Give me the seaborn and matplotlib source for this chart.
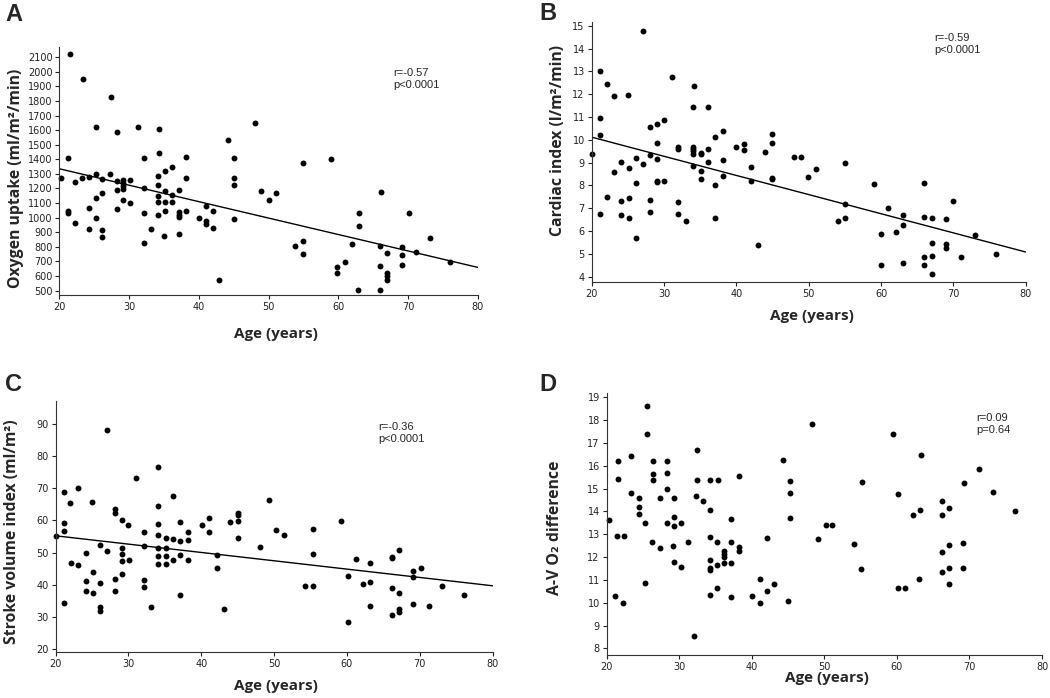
import matplotlib
matplotlib.use("Agg")
import matplotlib.pyplot as plt
import seaborn as sns

# Panel A: oxygen uptake vs age
age_a = [21.5, 23.4, 27.4, 25.3, 28.3, 31.3, 34.3, 21.3, 32.2, 34.3, 38.2, 20.2, 22.3, 23.2, 24.2,
         25.2, 26.1, 27.2, 28.2, 28.2, 29.2, 29.2, 29.2, 29.2, 29.2, 30.2, 30.2, 21.3, 21.3, 22.2,
         24.2, 24.2, 25.2, 25.2, 26.1, 26.1, 26.1, 28.2, 32.2, 32.2, 32.1, 33.1, 34.2, 34.2, 34.2,
         34.2, 34.2, 35.2, 35.2, 35.2, 35.2, 35.0, 36.2, 36.2, 36.2, 37.2, 37.2, 37.2, 37.2, 37.1,
         38.2, 38.2, 40.1, 41.1, 41.1, 41.1, 42.0, 42.0, 42.9, 44.2, 45.1, 45.1, 45.1, 45.1, 48.1,
         48.9, 50.0, 51.0, 55.0, 59.0, 66.1, 63.0, 63.0, 70.1, 53.8, 54.9, 54.9, 61.9, 59.8, 59.8,
         60.9, 66.0, 66.0, 66.0, 62.9, 67.0, 67.0, 67.0, 67.0, 69.1, 69.1, 69.1, 71.1, 73.1, 76.0]
oxygen_uptake = [2120, 1950, 1830, 1620, 1585, 1620, 1610, 1410, 1410, 1444, 1419, 1275, 1245, 1270, 1280,
                 1300, 1263, 1302, 1254, 1188, 1259, 1240, 1218, 1197, 1122, 1257, 1103, 1046, 1032, 964,
                 1065, 923, 1138, 1001, 1168, 914, 866, 1062, 1206, 1030, 827, 925, 1286, 1227, 1149,
                 1110, 1019, 1323, 1186, 1110, 1049, 875, 1348, 1156, 1110, 1190, 1040, 1019, 1003, 886,
                 1273, 1044, 998, 1081, 976, 957, 1049, 928, 573, 1533, 1408, 1274, 1224, 994, 1648,
                 1186, 1119, 1167, 1378, 1403, 1174, 1035, 941, 1030, 806, 838, 754, 818, 662, 619,
                 697, 809, 669, 502, 502, 758, 620, 598, 575, 799, 747, 678, 765, 861, 694]

# Panel B: cardiac index vs age
age_b = [27.1, 21.1, 22.1, 23.1, 25.0, 31.1, 34.1, 34.0, 36.1, 21.1, 21.1, 28.0, 29.0, 30.0, 29.0,
         20.1, 32.0, 32.0, 34.0, 34.0, 34.0, 34.0, 35.1, 35.1, 36.1, 37.1, 38.1, 40.0, 41.0, 41.0,
         43.9, 24.1, 26.1, 28.0, 29.0, 27.1, 25.1, 23.1, 26.1, 29.0, 29.0, 30.0, 34.0, 35.1, 35.1,
         36.1, 37.1, 38.1, 38.1, 42.0, 42.0, 22.1, 24.1, 25.1, 28.0, 32.0, 21.1, 24.1, 25.1, 28.0,
         32.0, 33.0, 37.0, 26.1, 43.0, 44.9, 44.9, 44.9, 44.9, 47.9, 48.9, 51.0, 49.9, 55.0, 55.0,
         55.0, 54.0, 59.0, 61.0, 63.0, 63.0, 62.0, 60.0, 60.0, 63.0, 66.0, 66.0, 67.0, 69.0, 70.0,
         67.0, 69.0, 69.0, 66.0, 67.0, 66.0, 67.0, 71.0, 73.0, 75.9]
cardiac_index = [14.77, 13.03, 12.44, 11.92, 11.95, 12.76, 12.38, 11.42, 11.46, 10.94, 10.21, 10.57, 10.69, 10.85, 9.84,
                 9.40, 9.67, 9.60, 9.70, 9.60, 9.50, 9.40, 9.43, 9.36, 9.61, 10.13, 10.40, 9.68, 9.81, 9.56,
                 9.46, 9.01, 9.21, 9.32, 9.14, 8.95, 8.75, 8.59, 8.12, 8.21, 8.15, 8.21, 8.86, 8.63, 8.27,
                 9.05, 8.00, 9.12, 8.41, 8.82, 8.20, 7.50, 7.32, 7.46, 7.36, 7.27, 6.76, 6.69, 6.59, 6.82,
                 6.73, 6.45, 6.56, 5.68, 5.39, 10.25, 9.84, 8.33, 8.28, 9.24, 9.24, 8.72, 8.35, 9.00, 7.17,
                 6.58, 6.44, 8.05, 7.00, 6.72, 6.28, 5.94, 5.87, 4.52, 4.61, 8.12, 6.63, 6.58, 6.53, 7.34,
                 5.49, 5.42, 5.27, 4.88, 4.90, 4.51, 4.12, 4.85, 5.81, 4.98]

# Panel C: stroke volume index vs age
age_c = [27.0, 34.1, 31.1, 23.0, 21.1, 36.1, 25.0, 22.0, 34.1, 28.1, 28.1, 29.1, 30.0, 21.1, 34.1,
         37.1, 40.1, 41.1, 41.1, 44.0, 45.0, 45.0, 45.0, 45.0, 48.1, 21.1, 32.1, 38.2, 38.2, 34.1,
         35.1, 36.1, 37.1, 20.1, 32.1, 26.1, 27.1, 29.1, 29.1, 29.1, 30.1, 24.1, 34.1, 34.1, 34.1,
         35.1, 35.1, 35.1, 36.1, 37.1, 38.2, 42.1, 42.1, 22.1, 23.1, 29.1, 25.1, 24.1, 26.1, 28.1,
         28.1, 32.1, 32.1, 24.1, 25.1, 26.1, 26.1, 33.1, 37.1, 43.1, 21.1, 49.3, 50.3, 51.3, 55.3,
         55.3, 54.3, 55.3, 59.2, 61.2, 63.2, 60.2, 62.2, 63.2, 63.2, 60.2, 66.2, 66.2, 67.1, 66.2,
         67.1, 67.1, 67.1, 66.2, 69.1, 69.1, 70.1, 69.1, 71.2, 73.1, 76.1]
stroke_volume = [88.2, 76.6, 73.1, 70.2, 68.7, 67.5, 65.8, 65.3, 64.5, 63.5, 62.3, 60.2, 58.5, 59.2, 58.9,
                 59.6, 58.5, 60.8, 56.4, 59.4, 62.3, 61.7, 59.7, 54.7, 51.8, 56.6, 56.5, 56.3, 54.0, 55.5,
                 54.7, 54.1, 53.6, 55.1, 52.2, 52.3, 50.5, 51.5, 49.5, 47.3, 47.8, 50.0, 51.6, 49.1, 46.6,
                 51.6, 49.1, 46.6, 47.7, 49.2, 47.8, 49.2, 45.4, 46.8, 46.3, 43.4, 44.1, 41.1, 40.5, 41.7,
                 38.1, 41.6, 39.2, 38.0, 37.5, 33.2, 31.8, 33.2, 36.9, 32.4, 34.5, 66.4, 57.2, 55.6, 57.5,
                 49.7, 39.8, 39.8, 59.9, 48.1, 46.9, 42.7, 40.3, 41.0, 33.5, 28.6, 48.6, 48.2, 50.9, 39.0,
                 37.5, 32.6, 31.7, 30.5, 44.4, 42.6, 45.2, 34.0, 33.6, 39.8, 36.8]

# Panel D: A-V O2 difference vs age
age_d = [20.3, 21.5, 21.5, 21.4, 22.4, 23.4, 23.4, 24.4, 24.4, 24.4, 25.5, 25.5, 26.4, 26.4, 26.4,
         28.3, 28.3, 28.3, 27.4, 29.3, 32.4, 32.4, 34.3, 35.3, 38.2, 32.3, 33.3, 34.2, 25.3, 28.3,
         29.3, 29.3, 30.3, 37.2, 26.3, 27.3, 29.2, 31.2, 34.2, 35.2, 37.2, 38.2, 42.1, 35.2, 36.2,
         36.2, 36.2, 38.2, 34.2, 34.2, 34.2, 36.2, 37.2, 29.3, 30.3, 25.3, 21.2, 22.2, 34.2, 35.2,
         37.2, 40.0, 41.1, 41.1, 42.1, 43.1, 32.0, 45.0, 48.3, 59.4, 63.3, 44.3, 45.3, 45.3, 45.3,
         55.2, 71.3, 69.2, 73.3, 60.2, 66.2, 67.2, 66.2, 63.2, 62.2, 76.3, 50.2, 51.1, 49.1, 54.1,
         55.1, 66.2, 67.2, 69.1, 66.2, 67.2, 69.1, 63.1, 60.1, 61.1, 67.2]
avo2_diff = [13.61, 16.22, 15.42, 12.91, 12.91, 16.41, 14.79, 14.59, 14.19, 13.90, 18.62, 17.40, 16.20, 15.63, 15.38,
             16.20, 15.70, 14.98, 14.57, 14.57, 16.68, 15.38, 15.37, 15.37, 15.55, 14.66, 14.47, 14.06, 13.49, 13.49,
             13.74, 13.36, 13.48, 13.65, 12.67, 12.40, 12.47, 12.67, 12.86, 12.65, 12.65, 12.45, 12.82, 11.65, 12.27,
             12.13, 12.00, 12.25, 11.87, 11.50, 11.43, 11.75, 11.75, 11.77, 11.56, 10.88, 10.30, 9.97, 10.34, 10.64,
             10.23, 10.29, 11.02, 10.00, 10.50, 10.80, 8.53, 10.09, 17.85, 17.41, 16.47, 16.24, 15.33, 14.82, 13.73,
             15.30, 15.84, 15.25, 14.84, 14.78, 14.44, 14.15, 13.84, 14.05, 13.86, 14.00, 13.39, 13.39, 12.79, 12.57,
             11.46, 12.24, 12.53, 12.63, 11.33, 11.50, 11.50, 11.04, 10.64, 10.64, 10.80]

age_ticks = [20, 30, 40, 50, 60, 70, 80]

sns.set_style("ticks")
plt.rcParams['font.family'] = ['DejaVu Sans']
label_font = ['Open Sans', 'DejaVu Sans']

fig = plt.figure(figsize=(10.5, 6.98), dpi=100)


def draw_panel(rect, letter, letter_xy, x, y, ylabel, ylim, yticks, stats, stats_xy,
               ylab_xy, xlab_xy, fit=True):
    ax = fig.add_axes(rect)
    ax.set_xlim(20, 80)
    ax.set_ylim(*ylim)
    sns.scatterplot(x=x, y=y, ax=ax, color='black', s=18, linewidth=0, clip_on=False)
    if fit:
        # least squares line across the whole age axis
        sns.regplot(x=x, y=y, ax=ax, scatter=False, ci=None, truncate=False,
                    color='black', line_kws={'linewidth': 1.0})
    ax.set_xlim(20, 80)
    ax.set_ylim(*ylim)
    ax.set_xticks(age_ticks)
    ax.set_yticks(yticks)
    ax.tick_params(direction='out', length=3, width=0.8, labelsize=7, pad=2, colors='#222222')
    sns.despine(ax=ax)
    for side in ['left', 'bottom']:
        ax.spines[side].set_linewidth(0.8)
        ax.spines[side].set_color('#333333')
    ax.set_xlabel('Age (years)', fontsize=11, fontweight='bold', family=label_font)
    ax.set_ylabel(ylabel, fontsize=11.3, fontweight='bold', family=label_font)
    ax.xaxis.set_label_coords(*xlab_xy)
    ax.yaxis.set_label_coords(*ylab_xy)
    ax.text(stats_xy[0], stats_xy[1], stats, transform=ax.transAxes, ha='left', va='top',
            fontsize=8, family=['Liberation Sans', 'DejaVu Sans'], linespacing=1.25)
    fig.text(letter_xy[0], letter_xy[1], letter, ha='left', va='top', fontsize=17,
             fontweight='bold', family=['Liberation Sans', 'DejaVu Sans'])
    return ax


draw_panel([0.0565, 0.5774, 0.3985, 0.3553], 'A', (0.005, 0.995), age_a, oxygen_uptake,
           'Oxygen uptake (ml/m²/min)', (470, 2170), list(range(500, 2101, 100)),
           'r=-0.57\np<0.0001', (0.798, 0.915), (-0.085, 0.47), (0.518, -0.13))

draw_panel([0.5635, 0.5964, 0.4134, 0.3725], 'B', (0.514, 0.997), age_b, cardiac_index,
           'Cardiac index (l/m²/min)', (3.78, 15.18), list(range(4, 16)),
           'r=-0.59\np<0.0001', (0.789, 0.955), (-0.06, 0.545), (0.508, -0.105))

draw_panel([0.053, 0.0663, 0.4162, 0.3592], 'C', (0.005, 0.466), age_c, stroke_volume,
           'Stroke volume index (ml/m²)', (19.25, 97.1), list(range(20, 91, 10)),
           'r=-0.36\np<0.0001', (0.738, 0.917), (-0.082, 0.477), (0.504, -0.11))

draw_panel([0.5778, 0.0616, 0.4146, 0.3758], 'D', (0.514, 0.466), age_d, avo2_diff,
           'A-V O₂ difference', (7.71, 19.2), list(range(8, 20)),
           'r=0.09\np=0.64', (0.85, 0.924), (-0.1, 0.486), (0.507, -0.06), fit=False)

fig.savefig('out.png', dpi=100)
